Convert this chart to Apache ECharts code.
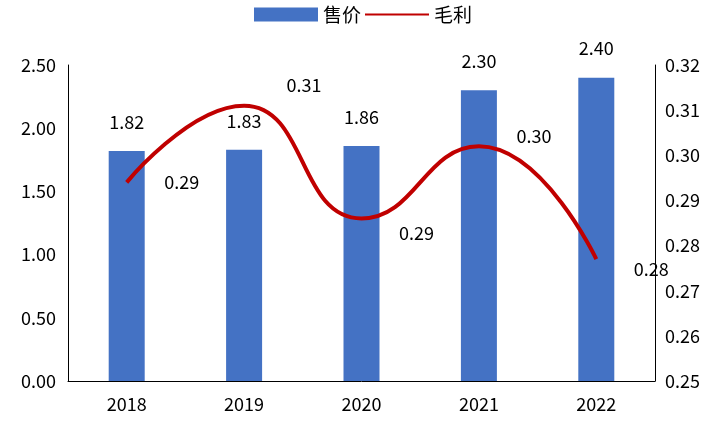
<!DOCTYPE html>
<html><head><meta charset="utf-8">
<script src="https://cdn.jsdelivr.net/npm/echarts@6/dist/echarts.min.js"></script>
<style>html,body{margin:0;background:#fff}#c{width:726px;height:425px}</style>
</head><body><div id="c"></div>
<script>
var years = ['2018', '2019', '2020', '2021', '2022'];
var price = [1.82, 1.83, 1.86, 2.30, 2.40];
var margin = [0.294, 0.311, 0.286, 0.302, 0.277];

var font = 'Noto Sans CJK SC';
var chart = echarts.init(document.getElementById('c'));
//毛利标签的偏移
var labelOffsets = [[55, 0], [60, -20], [55, 15], [55, -10], [55, 10]];
chart.setOption({
    textStyle: { fontFamily: font },
    legend: {
        top: 0, left: 'center', itemGap: 4,
        itemWidth: 64, itemHeight: 14,
        textStyle: { fontSize: 19, color: '#000', fontFamily: font },
        data: [{ name: '售价', icon: 'rect' },
               { name: '毛利', icon: 'path://M0,6L64,6L64,8L0,8Z' }]
    },
    grid: { left: 68, right: 71, top: 65, bottom: 44 },
    xAxis: {
        type: 'category', data: years,
        axisLine: { lineStyle: { color: '#000' } },
        axisTick: { show: false },
        axisLabel: { fontSize: 18, color: '#000', margin: 14 }
    },
    yAxis: [{
        type: 'value', min: 0, max: 2.5, interval: 0.5,
        axisLine: { show: true, lineStyle: { color: '#000' } },
        splitLine: { show: false },
        axisLabel: { fontSize: 18, color: '#000', margin: 12, formatter: function (v) { return v.toFixed(2); } }
    }, {
        type: 'value', min: 0.25, max: 0.32, interval: 0.01,
        axisLine: { show: true, lineStyle: { color: '#000' } },
        splitLine: { show: false },
        axisLabel: { fontSize: 18, color: '#000', margin: 10, formatter: function (v) { return v.toFixed(2); } }
    }],
    series: [{
        name: '售价', type: 'bar', data: price, barWidth: 36,
        itemStyle: { color: '#4472C4' },
        label: { show: true, position: 'top', distance: 20, fontSize: 18, color: '#000',
            formatter: function (p) { return p.value.toFixed(2); } }
    }, {
        name: '毛利', type: 'line', yAxisIndex: 1, smooth: 0.5,
        data: margin.map(function (v, i) {
            return { value: v, label: { offset: labelOffsets[i] } };
        }),
        symbol: 'circle', symbolSize: 0.1, lineStyle: { color: '#C00000', width: 4 },
        itemStyle: { color: '#C00000' },
        label: { show: true, position: 'inside', fontSize: 18, color: '#000',
            formatter: function (p) { return p.value.toFixed(2); } }
    }]
});
</script></body></html>
